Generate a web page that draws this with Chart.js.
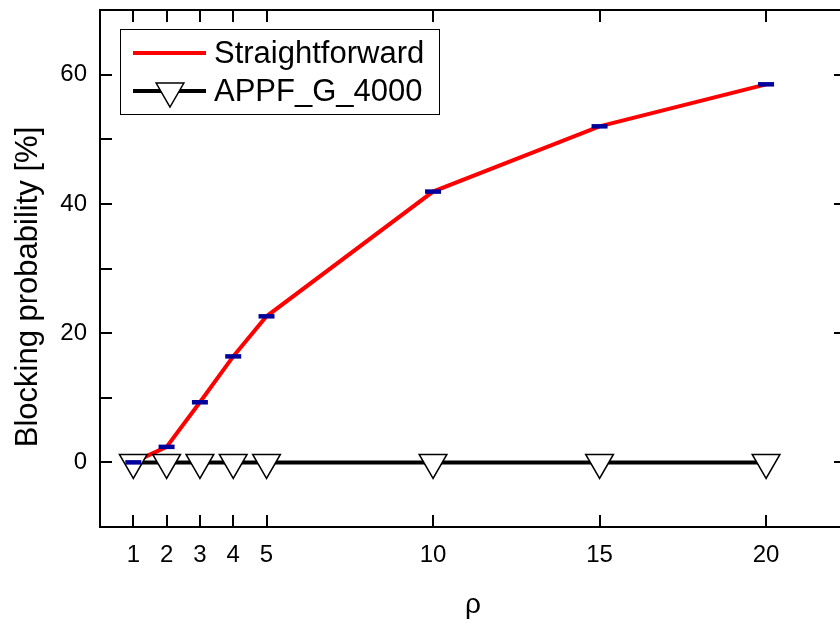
<!DOCTYPE html>
<html>
<head>
<meta charset="utf-8">
<script src="https://cdn.jsdelivr.net/npm/chart.js@4/dist/chart.umd.min.js"></script>
<style>
  html, body { margin: 0; padding: 0; background: #fff; overflow: hidden; }
  #chart { display: block; }
</style>
</head>
<body>
<canvas id="chart" width="848" height="624"></canvas>
<script>
"use strict";
// rho values and blocking probabilities (%)
var rho = [1, 2, 3, 4, 5, 10, 15, 20];
var straightforward = [0, 2.4, 9.3, 16.4, 22.6, 41.9, 52.0, 58.5];
var appf = [0, 0, 0, 0, 0, 0, 0, 0];
var xTicks = [1, 2, 3, 4, 5, 10, 15, 20];
var yTicks = [0, 20, 40, 60];
var yTitle = "Blocking probability [%]";

function pts(ys) {
  return rho.map(function (x, i) { return { x: x, y: ys[i] }; });
}

var FONT = "'Liberation Sans', Arial, sans-serif";

// frame, inward ticks, y title and the boxed legend
var framePlugin = {
  id: "frame",
  afterDraw: function (chart) {
    var ctx = chart.ctx;
    var a = chart.chartArea;
    var xs = chart.scales.x, ys = chart.scales.y;
    ctx.save();
    ctx.strokeStyle = "#000";
    ctx.lineWidth = 2;
    ctx.strokeRect(a.left, a.top, a.right - a.left, a.bottom - a.top);
    ctx.beginPath();
    xTicks.forEach(function (v) {
      var px = Math.round(xs.getPixelForValue(v));
      ctx.moveTo(px, a.bottom); ctx.lineTo(px, a.bottom - 12);
      ctx.moveTo(px, a.top); ctx.lineTo(px, a.top + 12);
    });
    for (var v = -10; v <= 70; v += 10) {
      var py = Math.round(ys.getPixelForValue(v));
      if (v > -10 && v < 70) {
        ctx.moveTo(a.left, py); ctx.lineTo(a.left + 12, py);
      }
      if (yTicks.indexOf(v) >= 0) {
        ctx.moveTo(a.right, py); ctx.lineTo(a.right - 12, py);
      }
    }
    ctx.stroke();

    // y axis title, sitting a little below the middle of the axis
    ctx.save();
    ctx.translate(37, 287);
    ctx.rotate(-Math.PI / 2);
    ctx.font = "31px " + FONT;
    ctx.fillStyle = "#000";
    ctx.textAlign = "center";
    ctx.textBaseline = "alphabetic";
    ctx.fillText(yTitle, 0, 0);
    ctx.restore();

    // legend
    var lx = 120, ly = 29, lw = 319, lh = 85;
    ctx.fillStyle = "#fff";
    ctx.fillRect(lx, ly, lw, lh);
    ctx.lineWidth = 1;
    ctx.strokeRect(lx + 0.5, ly + 0.5, lw, lh);
    var rows = [
      { ds: chart.data.datasets[1], y: 53 },
      { ds: chart.data.datasets[2], y: 91 }
    ];
    ctx.font = "31px " + FONT;
    ctx.textBaseline = "middle";
    ctx.textAlign = "left";
    rows.forEach(function (r) {
      ctx.strokeStyle = r.ds.borderColor;
      ctx.lineWidth = r.ds.borderWidth;
      ctx.beginPath();
      ctx.moveTo(133, r.y); ctx.lineTo(206, r.y);
      ctx.stroke();
      if (r.ds.pointRadius > 0) {
        ctx.fillStyle = r.ds.pointBackgroundColor;
        ctx.strokeStyle = r.ds.pointBorderColor;
        ctx.lineWidth = r.ds.pointBorderWidth;
        Chart.helpers.drawPoint(ctx, {
          pointStyle: "triangle", rotation: 180,
          radius: r.ds.pointRadius, borderWidth: r.ds.pointBorderWidth
        }, 170, r.y);
      }
      ctx.fillStyle = "#000";
      ctx.fillText(r.ds.label, 214, r.y + 1);
    });
    ctx.restore();
  }
};

new Chart(document.getElementById("chart"), {
  type: "scatter",
  data: {
    datasets: [
      {
        label: "err",
        data: pts(straightforward),
        showLine: false,
        pointStyle: "line",
        pointRadius: 8,
        pointHoverRadius: 8,
        borderColor: "#00009c",
        pointBorderColor: "#00009c",
        pointBorderWidth: 4.5,
        order: 0
      },
      {
        label: "Straightforward",
        data: pts(straightforward),
        showLine: true,
        borderColor: "#ff0000",
        borderWidth: 4,
        pointRadius: 0,
        tension: 0,
        order: 2
      },
      {
        label: "APPF_G_4000",
        data: pts(appf),
        showLine: true,
        borderColor: "#000",
        borderWidth: 4,
        pointStyle: "triangle",
        pointRotation: 180,
        pointRadius: 16,
        pointHoverRadius: 16,
        pointBackgroundColor: "#fff",
        pointBorderColor: "#000",
        pointBorderWidth: 1.5,
        order: 1
      }
    ]
  },
  options: {
    responsive: false,
    animation: false,
    events: [],
    layout: { autoPadding: false, padding: { top: 10, right: 2, left: 0, bottom: 0 } },
    plugins: {
      legend: { display: false },
      tooltip: { enabled: false }
    },
    scales: {
      x: {
        type: "linear",
        min: 0,
        max: 22.4,
        afterBuildTicks: function (scale) {
          scale.ticks = xTicks.map(function (v) { return { value: v }; });
        },
        afterFit: function (scale) {
          scale.height = 97;
          scale.paddingLeft = 0;
          scale.paddingRight = 0;
        },
        grid: { display: false, drawTicks: false },
        border: { display: false },
        ticks: {
          color: "#000",
          padding: 14,
          maxRotation: 0,
          autoSkip: false,
          font: { family: FONT, size: 24 }
        },
        title: {
          display: true,
          text: "ρ",
          color: "#000",
          padding: { top: 0, bottom: 2 },
          font: { family: FONT, size: 28 }
        }
      },
      y: {
        type: "linear",
        min: -10,
        max: 70,
        afterBuildTicks: function (scale) {
          scale.ticks = yTicks.map(function (v) { return { value: v }; });
        },
        afterFit: function (scale) {
          scale.width = 100;
          scale.paddingTop = 0;
          scale.paddingBottom = 0;
        },
        grid: { display: false, drawTicks: false },
        border: { display: false },
        ticks: {
          color: "#000",
          padding: 13,
          font: { family: FONT, size: 24 }
        },
        title: { display: false }
      }
    }
  },
  plugins: [framePlugin]
});
</script>
</body>
</html>
